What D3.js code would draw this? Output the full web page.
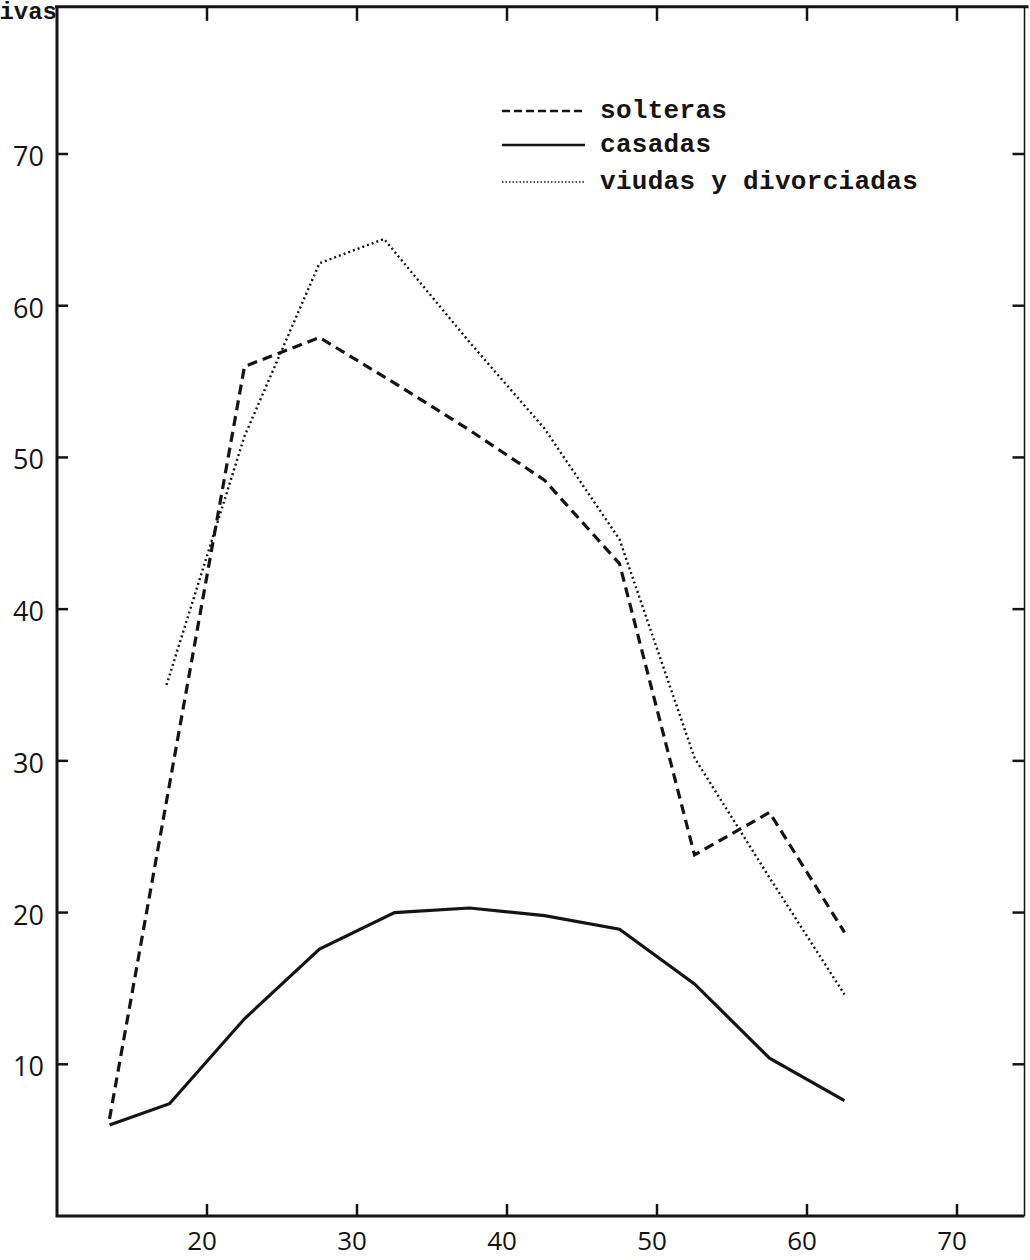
<!DOCTYPE html>
<html><head><meta charset="utf-8">
<script src="https://cdn.jsdelivr.net/npm/d3@7"></script>
<style>body{margin:0;background:#fff}svg{display:block}</style>
</head><body>
<svg id="c" width="1030" height="1260"></svg>
<script>
// ---- data ----
const xTicks = [20, 30, 40, 50, 60, 70];
const yTicks = [10, 20, 30, 40, 50, 60, 70];
const solterasAges = [13.5, 22.5, 27.5, 32.5, 37.5, 42.5, 47.5, 52.5, 57.5, 62.5];
const solterasVals = [6.4, 56.0, 57.9, 54.9, 51.8, 48.5, 43.0, 23.8, 26.6, 18.7];
const casadasAges = [13.5, 17.5, 22.5, 27.5, 32.5, 37.5, 42.5, 47.5, 52.5, 57.5, 62.5];
const casadasVals = [6.0, 7.4, 13.0, 17.6, 20.0, 20.3, 19.8, 18.9, 15.3, 10.4, 7.6];
const viudasAges = [17.3, 22.5, 27.5, 31.8, 37.5, 42.5, 47.5, 52.5, 57.5, 62.5];
const viudasVals = [35.0, 51.4, 62.8, 64.4, 57.6, 51.9, 44.6, 30.2, 22.3, 14.6];
const legendLabels = ["solteras", "casadas", "viudas y divorciadas"];
const yTitle = "ivas";

// ---- layout ----
const svg = d3.select("#c");
const x = d3.scaleLinear().domain([10, 70]).range([57, 957]);
const y = d3.scaleLinear().domain([0, 70]).range([1216, 154]);
const xMin = 10, xMax = 74.5, yMin = 0, yMax = 79.7;
const ink = "#141414";

// frame
const frame = svg.append("g").attr("stroke", ink).attr("stroke-width", 3).attr("fill", "none");
frame.append("path").attr("d", d3.line()([[x(xMin), y(yMax)], [x(xMin), y(yMin)], [x(xMax), y(yMin)]]));
frame.append("path").attr("d", d3.line()([[x(xMin) - 2, y(yMax)], [x(xMax)+4, y(yMax)]]));
frame.append("path").attr("stroke-width", 1.5).attr("d", d3.line()([[x(xMax), y(yMax)], [x(xMax), y(yMin)]]));

// ticks
const tk = svg.append("g").attr("stroke", ink).attr("stroke-width", 2.5);
xTicks.forEach(t => {
  tk.append("line").attr("x1", x(t)).attr("x2", x(t)).attr("y1", y(yMin)).attr("y2", y(yMin) - 12);
  tk.append("line").attr("x1", x(t)).attr("x2", x(t)).attr("y1", y(yMax)).attr("y2", y(yMax) + 14);
});
yTicks.forEach(t => {
  tk.append("line").attr("x1", x(xMin)).attr("x2", x(xMin) + 11).attr("y1", y(t)).attr("y2", y(t));
  tk.append("line").attr("x1", x(xMax)).attr("x2", x(xMax) - 12).attr("y1", y(t)).attr("y2", y(t));
});

// tick labels
const lab = svg.append("g").attr("font-family", "'Open Sans', sans-serif").attr("fill", ink);
xTicks.forEach(t => {
  lab.append("text").attr("x", x(t) - 5).attr("y", y(yMin) + 34).attr("font-size", 26)
    .attr("text-anchor", "middle").text(t);
});
yTicks.forEach(t => {
  lab.append("text").attr("x", 44).attr("y", y(t) + 12).attr("font-size", 27)
    .attr("text-anchor", "end").text(t);
});

// y title fragment
svg.append("text").attr("x", 57).attr("y", 19).attr("text-anchor", "end")
  .attr("font-family", "'Liberation Mono', monospace").attr("font-weight", "bold")
  .attr("font-size", 24).attr("fill", ink).text(yTitle);

// series
const line = d3.line().x(d => x(d[0])).y(d => y(d[1]));
const series = [
  {ages: solterasAges, vals: solterasVals, w: 3.2, dash: "10 6"},
  {ages: casadasAges, vals: casadasVals, w: 3.2, dash: null},
  {ages: viudasAges, vals: viudasVals, w: 2.4, dash: "2 3"}
];
series.forEach(s => {
  svg.append("path").datum(s.ages.map((a, i) => [a, s.vals[i]]))
    .attr("d", line).attr("fill", "none").attr("stroke", ink)
    .attr("stroke-width", s.w).attr("stroke-dasharray", s.dash)
    .attr("stroke-linejoin", "miter");
});

// legend
const legY = [111, 145, 182];
const leg = svg.append("g");
series.forEach((s, i) => {
  leg.append("line").attr("x1", 502).attr("x2", 585).attr("y1", legY[i]).attr("y2", legY[i])
    .attr("stroke", ink).attr("stroke-width", s.w - 0.8).attr("stroke-dasharray", s.dash ? (i === 0 ? "8 4" : "1.5 2") : null);
  leg.append("text").attr("x", 600).attr("y", legY[i] + 7)
    .attr("font-family", "'Liberation Mono', monospace").attr("font-weight", "bold")
    .attr("font-size", 26).attr("letter-spacing", 0.3).attr("fill", ink).text(legendLabels[i]);
});
</script>
</body></html>
